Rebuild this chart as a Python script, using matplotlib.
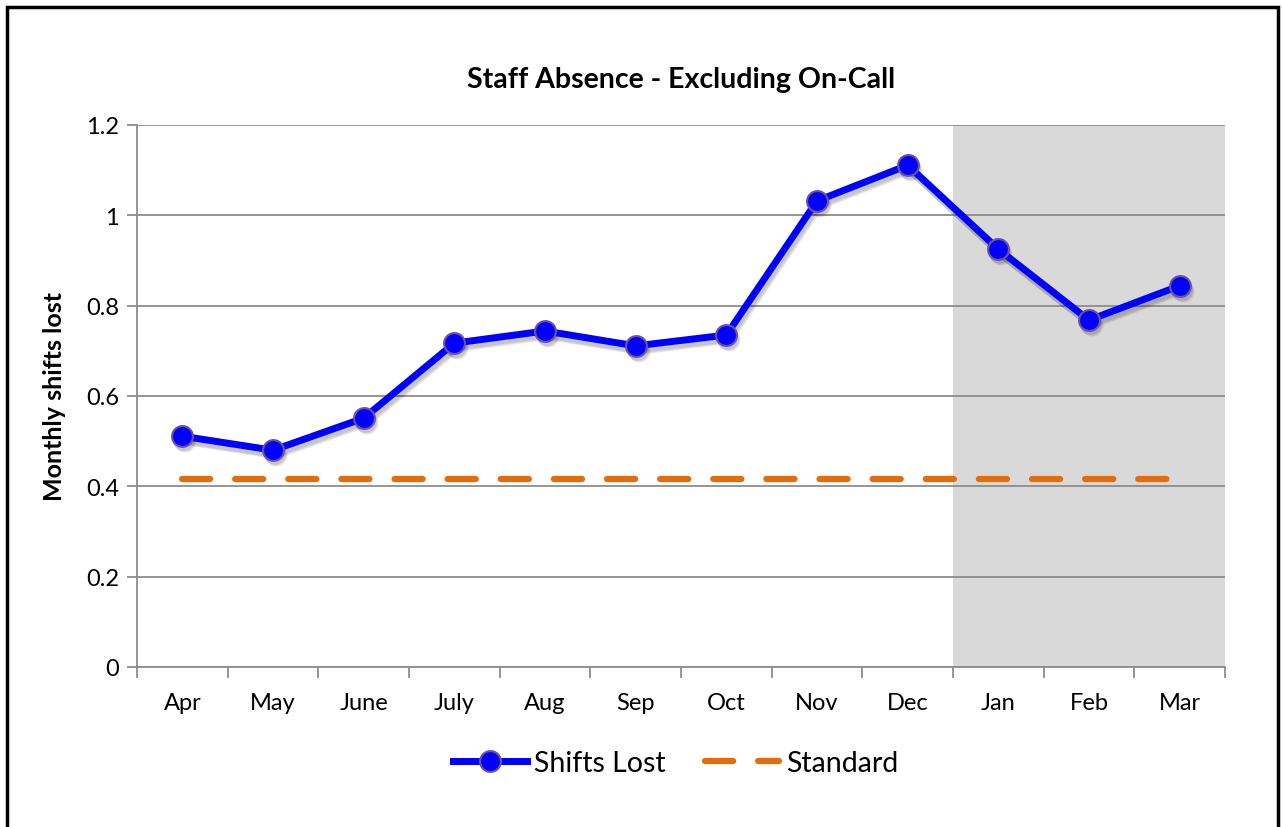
import matplotlib.pyplot as plt
import matplotlib.transforms as mtransforms
from matplotlib.patches import Rectangle

months = ["Apr", "May", "June", "July", "Aug", "Sep", "Oct", "Nov", "Dec", "Jan", "Feb", "Mar"]
shifts_lost = [0.511, 0.480, 0.551, 0.717, 0.744, 0.711, 0.735, 1.032, 1.111, 0.925, 0.768, 0.844]
standard = [0.416] * 12
shaded_from = "Jan"

plt.rcParams["font.family"] = ["Lato", "DejaVu Sans"]

fig = plt.figure(figsize=(12.82, 8.28), dpi=100)
W, H = 1282, 828
ax = fig.add_axes([137 / W, 1 - 668 / H, (1225 - 137) / W, (668 - 126) / H])

# outer frame of the chart object
fig.patches.append(Rectangle((7 / W, -0.05), (1278 - 7) / W, (1 - 8 / H) + 0.05,
                             transform=fig.transFigure, fill=False,
                             edgecolor="black", linewidth=2.5))

x = list(range(len(months)))
start = months.index(shaded_from)
ax.axvspan(start - 0.5, len(months) - 0.5, color="#d9d9d9", zorder=0, lw=0)

ax.set_xlim(-0.5, len(months) - 0.5)
ax.set_ylim(0, 1.2)
ax.set_yticks([0, 0.2, 0.4, 0.6, 0.8, 1.0, 1.2])
ax.set_yticklabels(["0", "0.2", "0.4", "0.6", "0.8", "1", "1.2"])
ax.yaxis.grid(True, color="#8c8c8c", linewidth=1.3)
ax.set_axisbelow(True)

ax.plot(x, standard, color="#e46c0a", linewidth=4.5, linestyle=(0, (4.5, 4)),
        dash_capstyle="round", label="Standard", zorder=3)

# soft drop shadow under the series
for dx, dy, a in [(2, -4, 0.10), (3, -5, 0.07), (1, -3, 0.07)]:
    shift = mtransforms.offset_copy(ax.transData, fig=fig, x=dx, y=dy, units="dots")
    ax.plot(x, shifts_lost, color="black", alpha=a, linewidth=6, marker="o",
            markersize=16, markeredgewidth=0, transform=shift, zorder=3.5)

line, = ax.plot(x, shifts_lost, color="#0000ff", linewidth=5, marker="o", markersize=15,
                markerfacecolor="#0000ff", markeredgecolor="#7050a0", markeredgewidth=1.5,
                label="Shifts Lost", zorder=4)

ax.set_xticks(x)
ax.set_xticklabels(months)
ax.set_xticks([i - 0.5 for i in range(len(months) + 1)], minor=True)
ax.tick_params(axis="x", which="major", length=0, pad=18, labelsize=17)
ax.tick_params(axis="x", which="minor", length=8, color="#8c8c8c", width=1.3)
ax.tick_params(axis="y", length=7, color="#8c8c8c", width=1.3, labelsize=17, pad=6)

for side in ["top", "right"]:
    ax.spines[side].set_visible(False)
for side in ["left", "bottom"]:
    ax.spines[side].set_color("#8c8c8c")
    ax.spines[side].set_linewidth(1.3)

ax.set_title("Staff Absence - Excluding On-Call", fontsize=20.5, fontweight="bold", pad=27)
ax.set_ylabel("Monthly shifts lost", fontsize=18, fontweight="bold", labelpad=14)

handles = [line, ax.lines[0]]
ax.legend(handles, ["Shifts Lost", "Standard"], loc="upper center",
          bbox_to_anchor=(0.495, -0.105), ncol=2, frameon=False, fontsize=20.5,
          handlelength=2.6, columnspacing=1.4, handletextpad=0.25)

fig.savefig("out.png", dpi=100)
